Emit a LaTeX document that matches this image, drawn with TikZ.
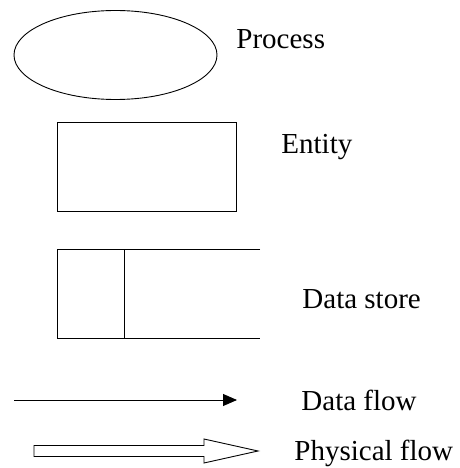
\documentclass[tikz,border=0pt]{standalone}
\usepackage{fontspec}
\setmainfont{Liberation Serif}
\usetikzlibrary{shapes.geometric,arrows.meta}
\def\fatarrow{-- ++(170,0) -- ++(0,-6.5) -- ++(54,12) -- ++(-54,12) -- ++(0,-6.5) -- ++(-170,0) -- cycle}
\def\lbl{\fontsize{29}{34}\selectfont}

\begin{document}
\begin{tikzpicture}[x=1pt,y=-1pt,line width=0.9pt,
    txt/.style={anchor=base west,inner sep=0pt,font=\lbl}]
    \useasboundingbox (0,0) rectangle (459,468);
    % symbols
    \node[draw,ellipse,minimum width=203pt,minimum height=89pt] (process) at (115.5,55) {};
    \node[draw,minimum width=179pt,minimum height=89pt] (entity) at (146.5,166.5) {};
    \draw (260,249) -- (57,249) -- (57,338) -- (260,338);
    \draw (124,249) -- (124,338);
    \coordinate (dfa) at (14,400);
    \coordinate (dfb) at (237,400);
    \draw[-{Triangle[length=14pt,width=12pt]}] (dfa) -- (dfb);
    \draw (34,445.5) \fatarrow;
    % labels
    \node[txt] (processlbl) at (236,49) {Process};
    \node[txt] (entitylbl) at (281,153) {Entity};
    \node[txt] (storelbl) at (302,308) {Data store};
    \node[txt] (dflbl) at (301,410) {Data flow};
    \node[txt] (pflbl) at (294,460.5) {Physical flow};
\end{tikzpicture}
\end{document}
